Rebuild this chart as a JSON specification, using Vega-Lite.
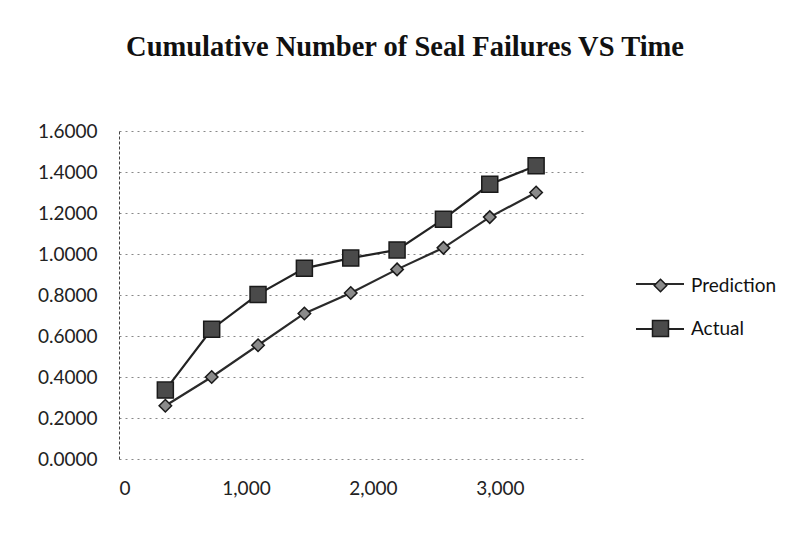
{
  "$schema": "https://vega.github.io/schema/vega-lite/v6.json",
  "autosize": "none",
  "width": 466,
  "height": 328,
  "padding": {"left": 119, "top": 131, "right": 214, "bottom": 77},
  "background": "white",
  "title": {
    "text": "Cumulative Number of Seal Failures VS Time",
    "font": "Liberation Serif",
    "fontSize": 28.5,
    "fontWeight": "bold",
    "color": "#111",
    "anchor": "middle",
    "baseline": "alphabetic",
    "offset": 38,
    "dx": 53
  },
  "config": {
    "view": {"stroke": null},
    "axis": {"labelFont": "Lato", "labelFontSize": 19, "labelColor": "#222", "ticks": false, "title": null},
    "legend": {
      "orient": "none",
      "padding": 0,
      "labelFont": "Lato",
      "labelFontSize": 19,
      "labelColor": "#111"
    }
  },
  "data": {
    "values": [
      {"time": 365, "series": "Prediction", "value": 0.26},
      {"time": 730, "series": "Prediction", "value": 0.40},
      {"time": 1095, "series": "Prediction", "value": 0.555},
      {"time": 1460, "series": "Prediction", "value": 0.71},
      {"time": 1825, "series": "Prediction", "value": 0.81},
      {"time": 2190, "series": "Prediction", "value": 0.925},
      {"time": 2555, "series": "Prediction", "value": 1.03},
      {"time": 2920, "series": "Prediction", "value": 1.18},
      {"time": 3285, "series": "Prediction", "value": 1.30},
      {"time": 365, "series": "Actual", "value": 0.336},
      {"time": 730, "series": "Actual", "value": 0.633},
      {"time": 1095, "series": "Actual", "value": 0.803},
      {"time": 1460, "series": "Actual", "value": 0.93},
      {"time": 1825, "series": "Actual", "value": 0.98},
      {"time": 2190, "series": "Actual", "value": 1.02},
      {"time": 2555, "series": "Actual", "value": 1.17},
      {"time": 2920, "series": "Actual", "value": 1.34},
      {"time": 3285, "series": "Actual", "value": 1.43}
    ]
  },
  "encoding": {
    "x": {
      "field": "time", "type": "quantitative",
      "scale": {"domain": [0, 3670], "nice": false},
      "axis": {"values": [0, 1000, 2000, 3000], "format": ",d", "grid": false, "domain": false, "labelPadding": 20}
    },
    "y": {
      "field": "value", "type": "quantitative",
      "scale": {"domain": [0, 1.6], "nice": false},
      "axis": {"values": [0, 0.2, 0.4, 0.6, 0.8, 1.0, 1.2, 1.4, 1.6], "format": ".4f", "grid": true, "gridColor": "#888", "gridDash": [2, 4], "gridWidth": 1, "domain": true, "domainColor": "#444", "domainDash": [3, 2], "domainWidth": 1, "labelPadding": 22}
    }
  },
  "layer": [
    {
      "mark": {"type": "line", "strokeWidth": 2.2},
      "encoding": {
        "stroke": {
          "field": "series", "type": "nominal",
          "scale": {"domain": ["Actual", "Prediction"], "range": ["#222222", "#2a2a2a"]},
          "legend": {
            "title": null,
            "values": ["Prediction", "Actual"],
            "legendX": 516,
            "legendY": 128,
            "symbolType": "stroke",
            "symbolSize": 2304,
            "symbolStrokeWidth": 2,
            "rowPadding": 10,
            "labelExpr": "''",
            "labelOffset": 2
          }
        }
      }
    },
    {
      "mark": {"type": "point", "filled": false, "stroke": "#1a1a1a", "strokeWidth": 1.5, "opacity": 1, "size": 256},
      "encoding": {
        "shape": {
          "field": "series", "type": "nominal",
          "scale": {"domain": ["Prediction", "Actual"], "range": ["M0,-0.78L0.78,0L0,0.78L-0.78,0Z", "square"]},
          "legend": {
            "title": null,
            "legendX": 532,
            "legendY": 145,
            "symbolSize": 256,
            "labelOffset": 21,
            "rowPadding": 21
          }
        },
        "fill": {
          "field": "series", "type": "nominal",
          "scale": {"domain": ["Prediction", "Actual"], "range": ["#8a8a8a", "#4a4a4a"]},
          "legend": {
            "title": null,
            "legendX": 532,
            "legendY": 145,
            "symbolSize": 256,
            "labelOffset": 21,
            "rowPadding": 21
          }
        }
      }
    }
  ]
}
